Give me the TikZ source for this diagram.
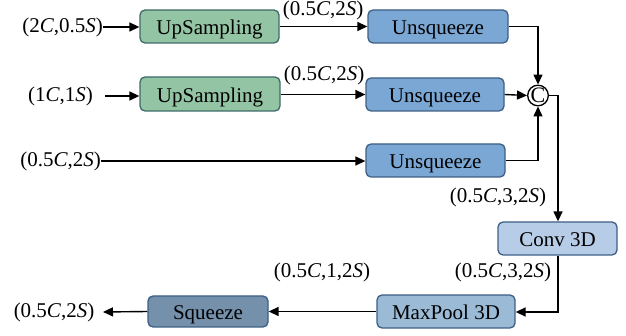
\documentclass[tikz,border=0pt]{standalone}
\usepackage{fontspec}
\setmainfont{Liberation Serif}
\usetikzlibrary{arrows.meta}
\newcommand\vi[1]{\textit{#1}}
\definecolor{upfill}{HTML}{93C4A4}
\definecolor{updraw}{HTML}{3E6A68}
\definecolor{unfill}{HTML}{7BA7D5}
\definecolor{undraw}{HTML}{3D5F85}
\definecolor{cvfill}{HTML}{B7CCE6}
\definecolor{mpfill}{HTML}{9ABAD6}
\definecolor{sqfill}{HTML}{7490AB}
\tikzset{
  box/.style={draw=undraw, line width=1.3pt, rounded corners=5pt, inner sep=0pt,
    text height=16.5pt, text depth=0pt, font=\fontsize{21}{25}\selectfont},
  lbl/.style={inner sep=0pt, font=\fontsize{21}{25}\selectfont},
  conn/.style={line width=1.4pt, -{Triangle[length=10pt,width=9pt]}},
}
\begin{document}
\begin{tikzpicture}[x=1pt,y=-1pt]
\useasboundingbox (0,0) rectangle (626,336);
% boxes
\node[box, fill=upfill, draw=updraw, minimum width=139pt, minimum height=33pt] (up1) at (209.5,26.5) {UpSampling};
\node[box, fill=upfill, draw=updraw, minimum width=140pt, minimum height=34pt] (up2) at (210,94) {UpSampling};
\node[box, fill=unfill, minimum width=140pt, minimum height=33pt] (un1) at (438,26.5) {Unsqueeze};
\node[box, fill=unfill, minimum width=138pt, minimum height=33pt] (un2) at (435,94.5) {Unsqueeze};
\node[box, fill=unfill, minimum width=139pt, minimum height=33pt] (un3) at (435.5,160.5) {Unsqueeze};
\node[draw, circle, line width=1.3pt, minimum size=19pt, inner sep=0pt,
  text height=14.5pt, text depth=0pt, font=\fontsize{22}{24}\selectfont] (cat) at (538,95.5) {C};
\node[box, fill=cvfill, minimum width=119pt, minimum height=33pt] (conv) at (557.5,238.5) {Conv 3D};
\node[box, fill=mpfill, minimum width=138pt, minimum height=33pt] (mp) at (446,311.5) {MaxPool 3D};
\node[box, fill=sqfill, minimum width=120pt, minimum height=31pt] (sq) at (208,311.5) {Squeeze};
% input / output labels
\node[lbl, anchor=east] (in1) at (103,27) {(2\vi{C},0.5\vi{S})};
\node[lbl] (in2) at (60.5,96) {(1\vi{C},1\vi{S})};
\node[lbl, anchor=east] (in3) at (101,161) {(0.5\vi{C},2\vi{S})};
\node[lbl] (out) at (54,312) {(0.5\vi{C},2\vi{S})};
% edge labels
\node[lbl] (l1) at (323,10) {(0.5\vi{C},2\vi{S})};
\node[lbl] (l2) at (324,75) {(0.5\vi{C},2\vi{S})};
\node[lbl] (l3) at (498,197) {(0.5\vi{C},3,2\vi{S})};
\node[lbl] (l4) at (503,272) {(0.5\vi{C},3,2\vi{S})};
\node[lbl] (l5) at (322,272) {(0.5\vi{C},1,2\vi{S})};
% connectors
\draw[conn] (in1.east) -- (up1.west |- in1.east);
\draw[conn] (105,96) coordinate (s2) -- (up2.west |- s2);
\draw[conn] (in3.east) -- (un3.west |- in3.east);
\draw[conn] (up1.east) -- (un1.west |- up1.east);
\draw[conn] (up2.east |- un2.west) -- (un2.west);
\draw[conn] (un1.east) -| (cat.north);
\draw[conn] (un2.east) -- (cat.west);
\draw[conn] (un3.east) -| (cat.south);
\coordinate (r1) at (558,95.5);
\draw[conn] (cat.east) -- (r1) -- (r1 |- conv.north);
\coordinate (r2) at (558,312);
\draw[conn] (r2 |- conv.south) -- (r2) -- (mp.east |- r2);
\draw[conn] (mp.west |- sq.east) -- (sq.east);
\draw[conn] (sq.west) -- (103,312);
\end{tikzpicture}
\end{document}
